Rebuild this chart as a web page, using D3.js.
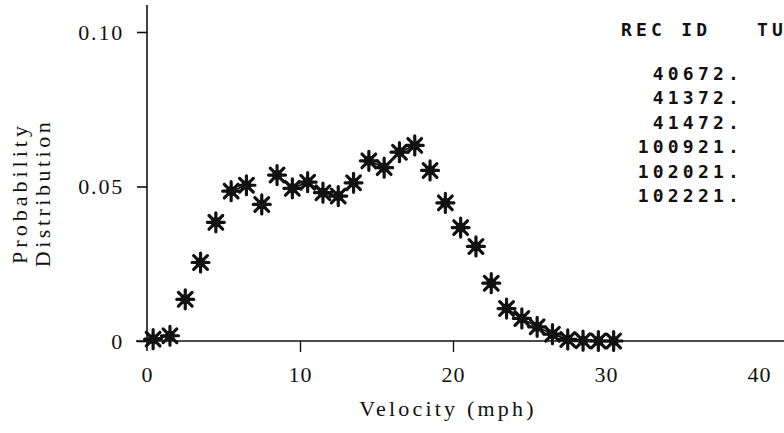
<!DOCTYPE html>
<html>
<head>
<meta charset="utf-8">
<script src="https://cdn.jsdelivr.net/npm/d3@7"></script>
<style>
  html, body { margin: 0; padding: 0; background: #fff; }
  svg { display: block; }
  .serif { font-family: "Liberation Serif", "Times New Roman", serif; fill: #111; }
  .plot { font-family: "DejaVu Sans Mono", monospace; font-weight: bold; fill: #111; }
</style>
</head>
<body>
<svg id="chart" width="784" height="433"></svg>
<script>
// Velocity bins (mph, bin centres) and probability per bin
const velocity = [0.4, 1.5, 2.5, 3.5, 4.5, 5.5, 6.5, 7.5, 8.5, 9.5, 10.5, 11.5, 12.5, 13.5, 14.5,
                  15.5, 16.5, 17.5, 18.5, 19.5, 20.5, 21.5, 22.5, 23.5, 24.5, 25.5, 26.5, 27.5,
                  28.5, 29.5, 30.5];
const probability = [0.0006, 0.0017, 0.0135, 0.0254, 0.0384, 0.0485, 0.0504, 0.0442, 0.0537, 0.0494,
                     0.0514, 0.0480, 0.0469, 0.0512, 0.0583, 0.0561, 0.0611, 0.0633, 0.0552, 0.0447,
                     0.0367, 0.0306, 0.0187, 0.0105, 0.0073, 0.0046, 0.0022, 0.0005, 0.0001, 0.0000,
                     0.0000];
// Whether the pen trace joins bin i to bin i+1
const joined = [1, 0, 0, 0, 0, 1, 0, 0, 1, 1, 1, 1, 1, 0, 1, 1, 1, 0, 0, 0,
                0, 0, 0, 1, 1, 1, 1, 1, 1, 1];

// Axis ticks
const xTicks = [0, 10, 20, 30, 40];
const xTickMarks = [10, 20];
const yTicks = [0, 0.05, 0.10];
const yTickLabels = ["0", "0.05", "0.10"];

// Record identifiers listed at upper right
const recIds = ["40672.", "41372.", "41472.", "100921.", "102021.", "102221."];

const svg = d3.select("#chart");

const x = d3.scaleLinear().domain([0, 40]).range([147, 759]);
const y = d3.scaleLinear().domain([0, 0.10]).range([341, 32]);

// Axis lines
svg.append("line")
  .attr("x1", x(0)).attr("x2", x(0))
  .attr("y1", 5).attr("y2", 351)
  .attr("stroke", "#111").attr("stroke-width", 1.6);
svg.append("line")
  .attr("x1", 136).attr("x2", 784)
  .attr("y1", y(0)).attr("y2", y(0))
  .attr("stroke", "#111").attr("stroke-width", 1.6);

// Y axis ticks and labels
const yAxis = d3.axisLeft(y)
  .tickValues(yTicks)
  .tickSize(10)
  .tickPadding(13)
  .tickFormat((d, i) => yTickLabels[i]);
const gy = svg.append("g").attr("transform", `translate(${x(0)},0)`).call(yAxis);
gy.select(".domain").remove();
gy.selectAll(".tick line").attr("stroke", "#111").attr("stroke-width", 1.6);
gy.selectAll(".tick text")
  .attr("class", "serif")
  .style("font-size", "22px")
  .style("letter-spacing", "1.8px")
  .attr("fill", "#111");

// X axis ticks and labels
const xAxis = d3.axisBottom(x)
  .tickValues(xTicks)
  .tickSize(11)
  .tickPadding(14);
const gx = svg.append("g").attr("transform", `translate(0,${y(0)})`).call(xAxis);
gx.select(".domain").remove();
gx.selectAll(".tick line")
  .attr("stroke", "#111").attr("stroke-width", 1.4)
  .attr("opacity", d => xTickMarks.includes(d) ? 1 : 0);
gx.selectAll(".tick text")
  .attr("class", "serif")
  .style("font-size", "22px")
  .style("letter-spacing", "1px")
  .attr("fill", "#111");

// Axis titles
svg.append("text")
  .attr("class", "serif")
  .attr("x", 448).attr("y", 416)
  .attr("text-anchor", "middle")
  .style("font-size", "22px")
  .style("letter-spacing", "3.2px")
  .text("Velocity (mph)");

const yTitle = svg.append("g").attr("transform", "translate(0,193) rotate(-90)");
yTitle.append("text")
  .attr("class", "serif")
  .attr("x", 0).attr("y", 27)
  .attr("text-anchor", "middle")
  .style("font-size", "22px")
  .style("letter-spacing", "4px")
  .text("Probability");
yTitle.append("text")
  .attr("class", "serif")
  .attr("x", 0).attr("y", 50)
  .attr("text-anchor", "middle")
  .style("font-size", "22px")
  .style("letter-spacing", "3.5px")
  .text("Distribution");

// Pen trace between adjacent bins
const pts = velocity.map((v, i) => [v, probability[i]]);
const segs = d3.pairs(pts).filter((p, i) => joined[i]);
svg.append("g").selectAll("line")
  .data(segs)
  .join("line")
  .attr("x1", d => x(d[0][0])).attr("y1", d => y(d[0][1]))
  .attr("x2", d => x(d[1][0])).attr("y2", d => y(d[1][1]))
  .attr("stroke", "#111")
  .attr("stroke-width", 1.8);

// Eight-pointed asterisk markers
const r = 9.5, rh = 8.5;
const starPath = [
  `M${-rh},0L${rh},0`,
  `M0,${-r}L0,${r}`,
  `M${-r * 0.72},${-r * 0.72}L${r * 0.72},${r * 0.72}`,
  `M${-r * 0.72},${r * 0.72}L${r * 0.72},${-r * 0.72}`
].join("");
const marks = svg.append("g").selectAll("g")
  .data(pts)
  .join("g")
  .attr("transform", d => `translate(${x(d[0])},${y(d[1])})`);
marks.append("path")
  .attr("d", starPath)
  .attr("stroke", "#111")
  .attr("stroke-width", 3.2)
  .attr("stroke-linecap", "round")
  .attr("fill", "none");
marks.append("circle")
  .attr("r", 5)
  .attr("fill", "#111");

// Record list at upper right
svg.append("text")
  .attr("class", "plot")
  .attr("x", 621).attr("y", 36)
  .style("font-size", "18px")
  .style("letter-spacing", "4.2px")
  .text("REC ID");
svg.append("text")
  .attr("class", "plot")
  .attr("x", 757).attr("y", 36)
  .style("font-size", "18px")
  .style("letter-spacing", "4.2px")
  .text("TU");
svg.append("g").selectAll("text")
  .data(recIds)
  .join("text")
  .attr("class", "plot")
  .attr("x", 743)
  .attr("y", (d, i) => 80 + i * 24.4)
  .attr("text-anchor", "end")
  .style("font-size", "18px")
  .style("letter-spacing", "4.2px")
  .text(d => d);
</script>
</body>
</html>
